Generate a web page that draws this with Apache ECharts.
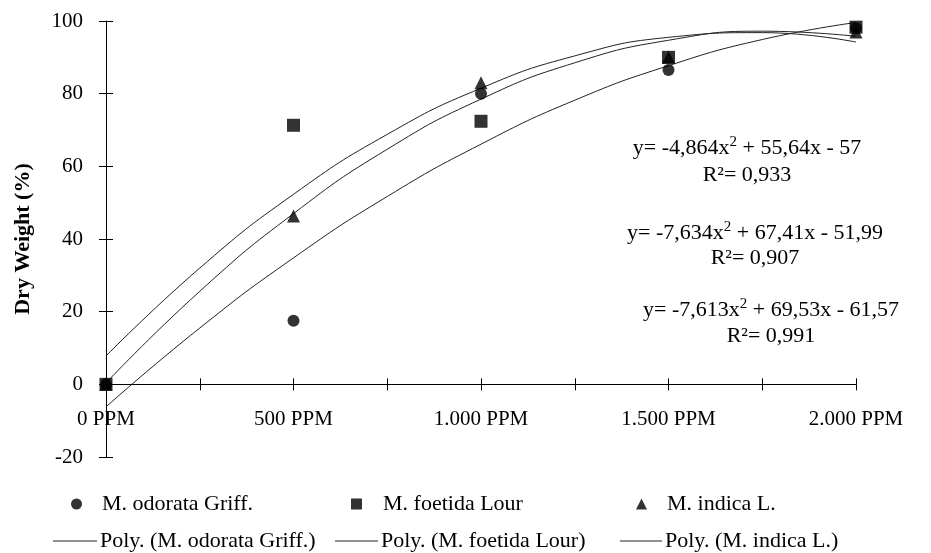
<!DOCTYPE html>
<html>
<head>
<meta charset="utf-8">
<script src="https://cdn.jsdelivr.net/npm/echarts@6/dist/echarts.min.js"></script>
<style>
  html, body { margin: 0; padding: 0; background: #fff; }
  #chart { width: 931px; height: 553px; }
</style>
</head>
<body>
<div id="chart"></div>
<script>
  const xValues = [0, 500, 1000, 1500, 2000];
  const odorata = [0, 17.5, 80, 86.5, 98];
  const foetida = [0, 71.3, 72.4, 90, 98.3];
  const indica = [0, 46.3, 83, 90, 97];

  // trend lines at every 250 PPM
  const trendX = [0, 250, 500, 750, 1000, 1250, 1500, 1750, 2000];
  const odorataTrend = [-6.2, 15.5, 34.8, 51.7, 66.1, 78.2, 87.7, 94.9, 99.6];
  const foetidaTrend = [7.8, 32.0, 52.3, 68.8, 81.5, 90.4, 95.5, 96.8, 94.2];
  const indicaTrend = [0.4, 25.6, 47.0, 64.7, 78.5, 88.5, 94.7, 97.2, 95.8];

  const xTickValues = [0, 500, 1000, 1500, 2000];
  const xTickLabels = ["0 PPM", "500 PPM", "1.000 PPM", "1.500 PPM", "2.000 PPM"];

  const names = ["M. odorata Griff.", "M. foetida Lour", "M. indica L."];
  const trendNames = ["Poly. (M. odorata Griff.)", "Poly. (M. foetida Lour)", "Poly. (M. indica L.)"];
  // equation: [before x², after x², R²]
  const equations = [
    ["y= -4,864x", " + 55,64x - 57", "R²= 0,933"],
    ["y= -7,634x", " + 67,41x - 51,99", "R²= 0,907"],
    ["y= -7,613x", " + 69,53x - 61,57", "R²= 0,991"]
  ];

  const font = "Liberation Serif";
  const zip = (xs, ys) => xs.map((x, i) => [x, ys[i]]);

  const chart = echarts.init(document.getElementById("chart"));

  const eqPos = [[747, 148, 175], [755, 233, 258], [771, 310, 336]];
  const graphic = [];
  equations.forEach((eq, i) => {
    const p = eqPos[i];
    graphic.push({
      type: "text", x: p[0], y: p[1],
      style: {
        text: "{m|" + eq[0] + "}{s|2}{m|" + eq[1] + "}",
        textAlign: "center", textVerticalAlign: "middle",
        rich: {
          m: { fontFamily: font, fontSize: 22, lineHeight: 26, color: "#000" },
          s: { fontFamily: font, fontSize: 15, lineHeight: 15, verticalAlign: "top", color: "#000" }
        }
      }
    });
    graphic.push({
      type: "text", x: p[0], y: p[2],
      style: { text: eq[2], font: "22px '" + font + "'", fill: "#000", textAlign: "center", textVerticalAlign: "middle" }
    });
  });

  const legendBase = {
    selectedMode: false,
    padding: 0,
    textStyle: { fontFamily: font, fontSize: 22, color: "#000" }
  };
  const markLegend = (name, left, pad) => Object.assign({}, legendBase, {
    data: [name], left: left, top: 493, itemWidth: 11, itemHeight: 11,
    textStyle: Object.assign({}, legendBase.textStyle, { padding: [0, 0, 0, pad] })
  });
  const lineLegend = (name, left, w) => Object.assign({}, legendBase, {
    data: [{ name: name, icon: "rect" }], left: left, top: 530, itemWidth: w, itemHeight: 1,
    textStyle: Object.assign({}, legendBase.textStyle, { padding: [0, 0, 0, -2] })
  });
  const legends = [
    markLegend(names[0], 71, 15),
    markLegend(names[1], 351, 16),
    markLegend(names[2], 636, 15),
    lineLegend(trendNames[0], 53, 44),
    lineLegend(trendNames[1], 335, 43),
    lineLegend(trendNames[2], 620, 42)
  ];

  const symbols = ["circle", "rect", "triangle"];
  const sizes = [12, 13, 13];
  const pts = [odorata, foetida, indica];
  const trends = [odorataTrend, foetidaTrend, indicaTrend];

  const series = [];
  trends.forEach((t, i) => {
    series.push({
      name: trendNames[i], type: "line", data: zip(trendX, t),
      smooth: true, symbol: "none", silent: true, z: 2,
      lineStyle: { color: "#222", width: 1 }, itemStyle: { color: "#222" }
    });
  });
  pts.forEach((p, i) => {
    series.push({
      name: names[i], type: "scatter", data: zip(xValues, p),
      symbol: symbols[i], symbolSize: sizes[i], z: 3,
      itemStyle: { color: "#000" }
    });
  });

  const option = {
    animation: false,
    backgroundColor: "#fff",
    grid: { left: 106, right: 75, top: 21, bottom: 96 },
    legend: legends,
    graphic: graphic,
    xAxis: [
      {
        type: "value", min: 0, max: 2000, interval: 250,
        axisLine: { onZero: true, onZeroAxisIndex: 0, lineStyle: { color: "#000", width: 1 } },
        axisTick: { length: 6, lineStyle: { color: "#000" } },
        splitLine: { show: false },
        axisLabel: {
          margin: -48, color: "#000", fontFamily: font, fontSize: 21,
          formatter: v => { const k = xTickValues.indexOf(v); return k >= 0 ? xTickLabels[k] : ""; }
        }
      },
      {
        type: "value", min: 0, max: 2000, interval: 250, position: "bottom",
        axisLine: { show: false, onZero: true, onZeroAxisIndex: 0 },
        axisLabel: { show: false }, splitLine: { show: false },
        axisTick: { show: true, inside: true, length: 6, lineStyle: { color: "#000" } }
      }
    ],
    yAxis: [
      {
        type: "value", min: -20, max: 100, interval: 20,
        name: "Dry Weight (%)", nameLocation: "middle", nameGap: 72, nameRotate: 90,
        nameTextStyle: { fontFamily: font, fontSize: 22, fontWeight: "bold", color: "#000" },
        axisLine: { show: true, onZero: false, lineStyle: { color: "#000", width: 1 } },
        axisTick: { show: true, length: 7, lineStyle: { color: "#000" } },
        splitLine: { show: false },
        axisLabel: { margin: 23, color: "#000", fontFamily: font, fontSize: 21 }
      },
      {
        type: "value", min: -20, max: 100, interval: 20, position: "left",
        axisLine: { show: false, onZero: false },
        axisLabel: { show: false }, splitLine: { show: false },
        axisTick: { show: true, inside: true, length: 7, lineStyle: { color: "#000" } }
      }
    ],
    series: series
  };

  chart.setOption(option);
  window.addEventListener("resize", () => chart.resize());
</script>
</body>
</html>
